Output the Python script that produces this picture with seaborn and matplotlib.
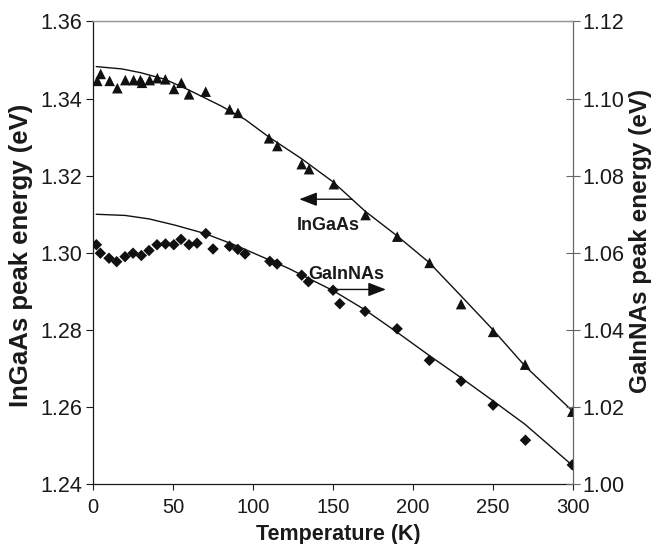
import matplotlib
matplotlib.use("Agg")
import matplotlib.pyplot as plt
import seaborn as sns
import pandas as pd

# InGaAs photoluminescence peak energy (left axis, eV)
ingaas_T = [2.7, 4.8, 10.4, 15.2, 20.2, 25.4, 29.6, 30.6, 35.4, 40.2, 45.2, 50.6, 55.2,
            60.0, 70.4, 85.4, 90.6, 110.0, 115.2, 130.4, 135.0, 150.5, 170.3, 190.1,
            210.3, 230.0, 250.0, 270.0, 299.5]
ingaas_E = [1.3446, 1.3464, 1.3446, 1.3427, 1.3448, 1.3448, 1.3448, 1.3441, 1.3448, 1.3453,
            1.3450, 1.3425, 1.3441, 1.3411, 1.3418, 1.3372, 1.3363, 1.3297, 1.3277, 1.3230,
            1.3217, 1.3178, 1.3098, 1.3042, 1.2974, 1.2867, 1.2795, 1.2710, 1.2588]

# GaInNAs photoluminescence peak energy (right axis, eV)
gainnas_T = [2.1, 4.6, 10.0, 14.8, 20.0, 25.0, 30.2, 35.0, 40.0, 45.3, 50.5, 55.0, 60.0,
             65.0, 70.5, 75.0, 85.3, 90.5, 95.0, 110.5, 115.0, 130.4, 134.6, 150.0, 154.2,
             170.0, 190.0, 210.2, 230.0, 250.0, 270.2, 299.5]
gainnas_E = [1.0621, 1.0599, 1.0586, 1.0577, 1.0590, 1.0599, 1.0593, 1.0606, 1.0621, 1.0623,
             1.0621, 1.0635, 1.0621, 1.0625, 1.0650, 1.0610, 1.0617, 1.0609, 1.0597, 1.0578,
             1.0571, 1.0542, 1.0525, 1.0503, 1.0468, 1.0448, 1.0403, 1.0321, 1.0267, 1.0205,
             1.0114, 1.0050]

# Fitted curves
ingaas_fit_T = [2, 18, 30, 45, 60, 80, 95, 110, 130, 150, 170, 190, 210, 230, 250, 270, 300]
ingaas_fit_E = [1.3483, 1.3477, 1.3467, 1.3450, 1.3422, 1.3381, 1.3346, 1.3300, 1.3245,
                1.3184, 1.3108, 1.3044, 1.2975, 1.2888, 1.2800, 1.2706, 1.2588]
gainnas_fit_T = [2, 20, 35, 51, 70, 90, 122, 150, 170, 190, 210, 230, 250, 270, 300]
gainnas_fit_E = [1.0700, 1.0697, 1.0688, 1.0672, 1.0650, 1.0618, 1.0560, 1.0502, 1.0452,
                 1.0394, 1.0334, 1.0276, 1.0216, 1.0155, 1.0047]

x_ticks = [0, 50, 100, 150, 200, 250, 300]
left_ticks = [1.24, 1.26, 1.28, 1.30, 1.32, 1.34, 1.36]
right_ticks = [1.00, 1.02, 1.04, 1.06, 1.08, 1.10, 1.12]

sns.set_theme(style="white")
plt.rcParams["font.family"] = ["Liberation Sans", "DejaVu Sans"]

fig = plt.figure(figsize=(6.55, 5.44), dpi=100)
ax = fig.add_axes([0.142, 0.110, 0.733, 0.8505])
ax2 = ax.twinx()

df_a = pd.DataFrame({"T": ingaas_T, "E": ingaas_E})
df_b = pd.DataFrame({"T": gainnas_T, "E": gainnas_E})
fit_a = pd.DataFrame({"T": ingaas_fit_T, "E": ingaas_fit_E})
fit_b = pd.DataFrame({"T": gainnas_fit_T, "E": gainnas_fit_E})

ink = "#1a1a1a"
sns.lineplot(data=fit_a, x="T", y="E", ax=ax, color="#111111", linewidth=1.0,
             sort=False, legend=False)
sns.scatterplot(data=df_a, x="T", y="E", ax=ax, marker="^", s=58, color="#111111",
                edgecolor="none", legend=False, zorder=3)
sns.lineplot(data=fit_b, x="T", y="E", ax=ax2, color="#111111", linewidth=1.0,
             sort=False, legend=False)
sns.scatterplot(data=df_b, x="T", y="E", ax=ax2, marker="D", s=34, color="#111111",
                edgecolor="none", legend=False, zorder=3)

ax.set_xlim(0, 300)
ax.set_ylim(1.24, 1.36)
ax2.set_ylim(1.00, 1.12)
ax.set_xticks(x_ticks)
ax.set_yticks(left_ticks)
ax2.set_yticks(right_ticks)
ax.set_xticklabels([str(t) for t in x_ticks])
ax.set_yticklabels([f"{t:.2f}" for t in left_ticks])
ax2.set_yticklabels([f"{t:.2f}" for t in right_ticks])

ax.set_xlabel("Temperature (K)", fontsize=15.5, fontweight="bold", color=ink, va="center")
ax.xaxis.set_label_coords(0.51, -0.108)
ax.set_ylabel("InGaAs peak energy (eV)", fontsize=18.5, fontweight="bold", color=ink,
              va="center")
ax.yaxis.set_label_coords(-0.150, 0.495)
ax2.set_ylabel("GaInNAs peak energy (eV)", fontsize=17.5, fontweight="bold", color=ink,
               va="center", rotation=90)
ax2.yaxis.set_label_coords(1.14, 0.525)

ax.tick_params(axis="x", direction="out", length=4, width=0.8, colors=ink,
               labelsize=14.5, pad=6, bottom=True)
ax.tick_params(axis="y", direction="out", length=5, width=0.8, colors=ink,
               labelsize=15.5, pad=3, left=True)
ax2.tick_params(axis="y", direction="inout", length=10, width=0.8, colors=ink,
                labelsize=15.5, pad=2, right=True)
ax2.tick_params(axis="y", color="#666666")

for a in (ax, ax2):
    a.grid(False)
    a.spines["left"].set_color(ink)
    a.spines["bottom"].set_color(ink)
    a.spines["top"].set_color("#999999")
    a.spines["right"].set_color("#666666")
    for s in a.spines.values():
        s.set_linewidth(0.9)
ax.spines["right"].set_visible(False)
ax2.spines["left"].set_visible(False)
ax2.spines["bottom"].set_visible(False)

# Series labels with arrows pointing to their axes
arrow_kw = dict(arrowstyle="-|>,head_length=0.9,head_width=0.35", color="#111111",
                lw=1.0, shrinkA=0, shrinkB=0)
ax.annotate("", xy=(128.9, 1.3139), xytext=(161.7, 1.3139), arrowprops=arrow_kw)
ax.text(147, 1.3072, "InGaAs", ha="center", va="center", fontsize=13,
        fontweight="bold", color=ink)
ax2.annotate("", xy=(183.0, 1.0505), xytext=(150.2, 1.0505), arrowprops=arrow_kw)
ax2.text(158, 1.0543, "GaInNAs", ha="center", va="center", fontsize=13,
         fontweight="bold", color=ink)

fig.savefig("out.png", dpi=100)
